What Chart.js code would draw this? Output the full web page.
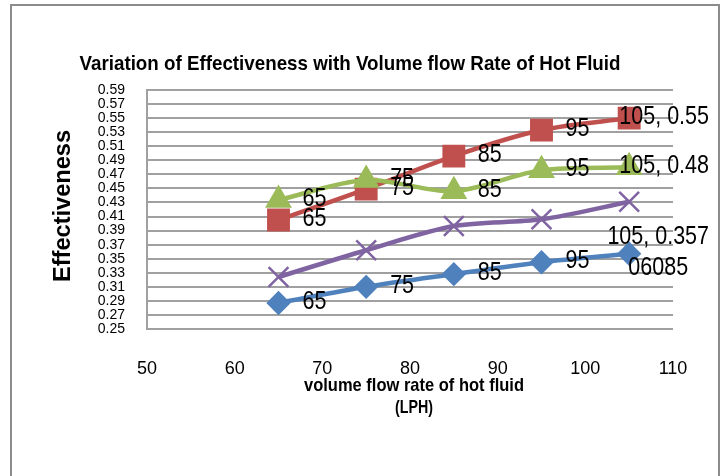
<!DOCTYPE html>
<html>
<head>
<meta charset="utf-8">
<script src="https://cdn.jsdelivr.net/npm/chart.js@4"></script>
<style>
  html, body { margin: 0; padding: 0; background: #fff; }
  #wrap { width: 725px; height: 476px; }
</style>
</head>
<body>
<div id="wrap"><canvas id="effChart"></canvas></div>
<script>
// flow rate of hot fluid (LPH)
const flowRates = [65, 75, 85, 95, 105];

// effectiveness
const seriesBlue = [0.287, 0.31, 0.328, 0.345, 0.35706085];
const seriesRed = [0.405, 0.449, 0.496, 0.533, 0.55];
const seriesGreen = [0.4335, 0.462, 0.446, 0.476, 0.48];
const seriesPurple = [0.324, 0.362, 0.3965, 0.406, 0.431];

// data labels shown next to the points
const labelsBlue = ['65', '75', '85', '95', '105, 0.357\n06085'];
const labelsRed = ['65', '75', '85', '95', '105, 0.55'];
const labelsGreen = ['65', '75', '85', '95', '105, 0.48'];

const yMin = 0.25, yMax = 0.59, yStep = 0.02;
const xMin = 50, xMax = 110, xStep = 10;

const chartTitle = 'Variation of Effectiveness with Volume flow Rate of Hot Fluid';
const yTitle = 'Effectiveness';
const xTitle = ['volume flow rate of hot fluid', '(LPH)'];

const SANS = "'Liberation Sans', Arial, sans-serif";

const toPoints = (vals) => flowRates.map((x, i) => ({ x: x, y: vals[i] }))

// text squeezed sideways, like the narrow font of the original
const drawNarrow = (ctx, text, cx, y, sx) => {
    ctx.save()
    ctx.translate(cx, y)
    ctx.scale(sx, 1)
    ctx.textAlign = 'center'
    ctx.fillText(text, 0, 0)
    ctx.restore()
}
const fitScale = (ctx, text, width) => width / ctx.measureText(text).width

const chartDecor = {
    id: 'chartDecor',
    beforeDraw(chart) {
        const ctx = chart.ctx
        ctx.save()
        ctx.fillStyle = '#fff'
        ctx.fillRect(0, 0, chart.width, chart.height)
        ctx.strokeStyle = '#8c8c8c'
        ctx.lineWidth = 2
        ctx.strokeRect(11, 5, 708, 490)
        ctx.restore()
    },
    afterDatasetsDraw(chart) {
        const ctx = chart.ctx
        const sx = 0.86
        ctx.save()
        ctx.fillStyle = '#000'
        ctx.font = '25px ' + SANS
        ctx.textBaseline = 'middle'
        chart.data.datasets.forEach((ds, di) => {
            if (!ds.pointLabels) return
            const meta = chart.getDatasetMeta(di)
            meta.data.forEach((pt, i) => {
                const lines = ds.pointLabels[i].split('\n')
                const w = Math.max(...lines.map(l => ctx.measureText(l).width)) * sx
                let left = pt.x + 24
                if (left + w > 709) left = 709 - w
                const lh = 31
                const top = pt.y - 1 - (lines.length - 1) * lh / 2
                lines.forEach((l, k) => drawNarrow(ctx, l, left + w / 2, top + k * lh, sx))
            })
        })
        ctx.restore()
    },
    afterDraw(chart) {
        const ctx = chart.ctx
        ctx.save()
        ctx.fillStyle = '#000'
        ctx.textBaseline = 'alphabetic'
        ctx.font = 'bold 21px ' + SANS
        drawNarrow(ctx, chartTitle, 350, 70, fitScale(ctx, chartTitle, 541))
        ctx.font = 'bold 19px ' + SANS
        drawNarrow(ctx, xTitle[0], 414, 391, fitScale(ctx, xTitle[0], 220))
        drawNarrow(ctx, xTitle[1], 414, 413, fitScale(ctx, xTitle[1], 38))
        ctx.font = 'bold 24px ' + SANS
        const s = fitScale(ctx, yTitle, 152)
        ctx.translate(70, 206)
        ctx.rotate(-Math.PI / 2)
        drawNarrow(ctx, yTitle, 0, 0, s)
        ctx.restore()
    }
}

new Chart(document.getElementById('effChart'), {
    type: 'line',
    data: {
        datasets: [{
            label: 'Series 1',
            data: toPoints(seriesBlue),
            pointLabels: labelsBlue,
            borderColor: '#4f81bd',
            backgroundColor: '#4f81bd',
            pointStyle: 'rectRot',
            pointRadius: 9,
            borderWidth: 4.5,
            tension: 0.3
        }, {
            label: 'Series 3',
            data: toPoints(seriesGreen),
            pointLabels: labelsGreen,
            borderColor: '#9bbb59',
            backgroundColor: '#9bbb59',
            pointStyle: 'triangle',
            pointRadius: 11,
            borderWidth: 4.5,
            tension: 0.3
        }, {
            label: 'Series 2',
            data: toPoints(seriesRed),
            pointLabels: labelsRed,
            borderColor: '#c0504d',
            backgroundColor: '#c0504d',
            pointStyle: 'rect',
            pointRadius: 13,
            borderWidth: 4.5,
            tension: 0.3
        }, {
            label: 'Series 4',
            data: toPoints(seriesPurple),
            borderColor: '#8064a2',
            backgroundColor: '#8064a2',
            pointStyle: 'crossRot',
            pointRadius: 14,
            pointBorderWidth: 2.5,
            borderWidth: 4.5,
            tension: 0.3
        }]
    },
    options: {
        responsive: true,
        maintainAspectRatio: false,
        animation: false,
        layout: { padding: { top: 90, right: 52, left: 0, bottom: 0 } },
        plugins: {
            legend: { display: false },
            tooltip: { enabled: false },
            title: { display: false }
        },
        scales: {
            x: {
                type: 'linear',
                min: xMin,
                max: xMax,
                ticks: {
                    stepSize: xStep,
                    color: '#000',
                    padding: 21,
                    font: { family: SANS, size: 18 }
                },
                grid: { display: false },
                border: { display: false },
                afterFit: (scale) => { scale.height = 147 }
            },
            y: {
                min: yMin,
                max: yMax,
                ticks: {
                    stepSize: yStep,
                    color: '#000',
                    padding: 22,
                    autoSkip: false,
                    font: { family: SANS, size: 14 },
                    callback: (v) => v.toFixed(2)
                },
                grid: { color: '#a0a0a0', lineWidth: 2, drawTicks: false },
                border: { color: '#a0a0a0', width: 2 },
                afterFit: (scale) => { scale.width = 147 }
            }
        }
    },
    plugins: [chartDecor]
});
</script>
</body>
</html>
